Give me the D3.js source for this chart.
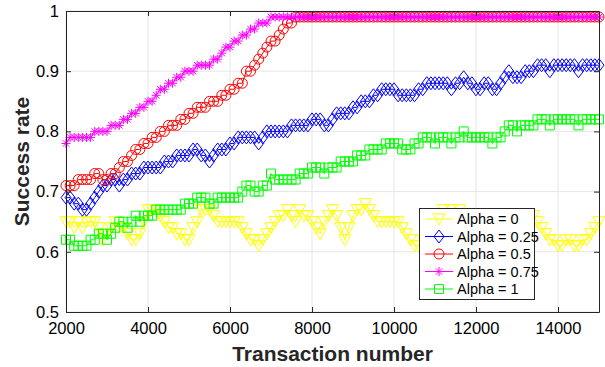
<!DOCTYPE html>
<html>
<head>
<meta charset="utf-8">
<script src="https://cdn.jsdelivr.net/npm/d3@7"></script>
<style>
  html, body { margin: 0; padding: 0; background: #fff; }
  svg { display: block; font-family: "Liberation Sans", Arial, Helvetica, sans-serif; }
</style>
</head>
<body>
<svg id="chart" width="605" height="367"></svg>
<script>
// Transactions sampled every 100 from 2000 to 15000
const transactions = d3.range(2000, 15001, 100);

const xTicks = [2000, 4000, 6000, 8000, 10000, 12000, 14000];
const yTicks = [0.5, 0.6, 0.7, 0.8, 0.9, 1.0];
const yTickLabels = ["0.5", "0.6", "0.7", "0.8", "0.9", "1"];

const seriesNames = ["Alpha = 0", "Alpha = 0.25", "Alpha = 0.5", "Alpha = 0.75", "Alpha = 1"];

const alpha0 = [
  .65,.65,.64,.65,.64,.65,.65,.65,.64,.62,
  .63,.64,.65,.64,.64,.63,.62,.62,.63,.65,
  .67,.67,.67,.66,.65,.64,.64,.63,.63,.62,
  .62,.64,.65,.67,.67,.67,.66,.65,.65,.65,
  .65,.65,.65,.64,.63,.62,.62,.61,.62,.63,
  .64,.65,.66,.66,.67,.66,.65,.67,.66,.66,
  .65,.64,.63,.65,.66,.67,.66,.64,.62,.64,
  .66,.67,.67,.68,.67,.66,.65,.65,.65,.65,
  .65,.65,.64,.63,.62,.61,.61,.62,.63,.64,
  .65,.66,.67,.66,.67,.66,.67,.66,.65,.64,
  .64,.63,.63,.64,.65,.64,.63,.63,.64,.65,
  .65,.64,.65,.65,.66,.65,.64,.63,.62,.62,
  .61,.61,.62,.62,.61,.61,.62,.62,.63,.64,
  .65
];

const alpha025 = [
  .69,.69,.68,.68,.67,.67,.68,.69,.70,.71,
  .71,.72,.72,.71,.72,.72,.73,.73,.73,.74,
  .74,.74,.74,.74,.75,.75,.75,.76,.76,.76,
  .76,.77,.77,.76,.76,.75,.76,.77,.77,.77,
  .78,.78,.79,.79,.79,.79,.79,.78,.79,.80,
  .80,.80,.80,.80,.80,.81,.81,.81,.81,.81,
  .82,.82,.82,.81,.81,.82,.83,.83,.83,.83,
  .84,.84,.85,.85,.85,.86,.86,.87,.87,.87,
  .87,.86,.86,.86,.86,.86,.87,.87,.88,.88,
  .88,.88,.88,.88,.87,.88,.88,.89,.88,.88,
  .87,.87,.88,.88,.87,.87,.88,.89,.90,.89,
  .89,.89,.90,.90,.90,.91,.91,.91,.90,.91,
  .91,.91,.91,.91,.91,.90,.91,.91,.91,.91,
  .91
];

const alpha05 = [
  .71,.71,.71,.72,.72,.72,.72,.73,.73,.72,
  .72,.73,.73,.74,.75,.75,.76,.77,.77,.78,
  .78,.79,.79,.80,.80,.81,.81,.81,.82,.82,
  .83,.83,.84,.84,.84,.85,.85,.85,.86,.86,
  .87,.87,.88,.88,.90,.90,.91,.92,.93,.94,
  .95,.95,.96,.97,.98,.98,.99,.99,.99,.99,
  .99,.99,.99,.99,.99,.99,.99,.99,.99,.99,
  .99,.99,.99,.99,.99,.99,.99,.99,.99,.99,
  .99,.99,.99,.99,.99,.99,.99,.99,.99,.99,
  .99,.99,.99,.99,.99,.99,.99,.99,.99,.99,
  .99,.99,.99,.99,.99,.99,.99,.99,.99,.99,
  .99,.99,.99,.99,.99,.99,.99,.99,.99,.99,
  .99,.99,.99,.99,.99,.99,.99,.99,.99,.99,
  .99
];

const alpha075 = [
  .78,.79,.79,.79,.79,.79,.79,.80,.80,.80,
  .80,.81,.81,.81,.82,.82,.83,.83,.84,.84,
  .85,.85,.86,.87,.87,.88,.88,.89,.89,.90,
  .90,.90,.91,.91,.91,.91,.92,.92,.93,.94,
  .94,.95,.95,.96,.96,.97,.97,.98,.98,.98,
  .99,.99,.99,.99,.99,.99,.99,.99,.99,.99,
  .99,.99,.99,.99,.99,.99,.99,.99,.99,.99,
  .99,.99,.99,.99,.99,.99,.99,.99,.99,.99,
  .99,.99,.99,.99,.99,.99,.99,.99,.99,.99,
  .99,.99,.99,.99,.99,.99,.99,.99,.99,.99,
  .99,.99,.99,.99,.99,.99,.99,.99,.99,.99,
  .99,.99,.99,.99,.99,.99,.99,.99,.99,.99,
  .99,.99,.99,.99,.99,.99,.99,.99,.99,.99,
  .99
];

const alpha1 = [
  .62,.62,.61,.61,.61,.61,.62,.62,.63,.63,
  .62,.63,.64,.65,.65,.64,.65,.66,.65,.66,
  .66,.66,.67,.67,.67,.67,.67,.67,.67,.68,
  .68,.68,.69,.69,.69,.68,.68,.69,.69,.69,
  .69,.69,.69,.70,.71,.71,.70,.70,.71,.71,
  .73,.72,.72,.72,.72,.72,.72,.73,.73,.73,
  .74,.74,.74,.73,.74,.74,.74,.75,.75,.75,
  .75,.76,.76,.76,.77,.77,.77,.77,.78,.78,
  .78,.78,.77,.77,.77,.78,.78,.79,.79,.79,
  .78,.79,.79,.79,.78,.79,.79,.80,.79,.79,
  .79,.79,.79,.79,.78,.79,.79,.80,.81,.81,
  .80,.81,.81,.81,.81,.82,.82,.82,.81,.82,
  .82,.82,.82,.82,.82,.81,.82,.82,.82,.82,
  .82
];

const seriesValues = [alpha0, alpha025, alpha05, alpha075, alpha1];
const seriesColors = ["#ffff00", "#0000ff", "#ff0000", "#ff00ff", "#00ff00"];
const seriesMarkers = ["triangleDown", "diamond", "circle", "asterisk", "square"];

// Plot geometry
const plot = { left: 66, right: 599, top: 11, bottom: 312 };
const axisColor = "#262626";
const gridColor = "#e6e6e6";

const svg = d3.select("#chart");

const x = d3.scaleLinear().domain([2000, 15000]).range([plot.left, plot.right]);
const y = d3.scaleLinear().domain([0.5, 1.0]).range([plot.bottom, plot.top]);

// Grid
const grid = svg.append("g");
grid.selectAll("line.gx").data(xTicks).join("line")
  .attr("x1", d => x(d)).attr("x2", d => x(d))
  .attr("y1", plot.top).attr("y2", plot.bottom)
  .attr("stroke", gridColor).attr("stroke-width", 1);
grid.selectAll("line.gy").data(yTicks).join("line")
  .attr("x1", plot.left).attr("x2", plot.right)
  .attr("y1", d => y(d)).attr("y2", d => y(d))
  .attr("stroke", gridColor).attr("stroke-width", 1);

// Marker path generators, centred on the origin
function markerPath(kind) {
  const p = d3.path();
  if (kind === "triangleDown") {
    p.moveTo(-6, -5); p.lineTo(6, -5); p.lineTo(0, 6); p.closePath();
  } else if (kind === "diamond") {
    p.moveTo(0, -6.5); p.lineTo(5, 0); p.lineTo(0, 6.5); p.lineTo(-5, 0); p.closePath();
  } else if (kind === "circle") {
    p.moveTo(5, 0); p.arc(0, 0, 5, 0, 2 * Math.PI);
  } else if (kind === "square") {
    p.rect(-4.5, -4.5, 9, 9);
  } else if (kind === "asterisk") {
    const r = 4.5, d = r * 0.7071;
    p.moveTo(-r, 0); p.lineTo(r, 0);
    p.moveTo(0, -r); p.lineTo(0, r);
    p.moveTo(-d, -d); p.lineTo(d, d);
    p.moveTo(-d, d); p.lineTo(d, -d);
  }
  return p.toString();
}

const line = d3.line().x(d => x(d[0])).y(d => y(d[1]));

// Series
seriesValues.forEach((vals, i) => {
  const pts = transactions.map((t, k) => [t, vals[k]]);
  const g = svg.append("g").attr("class", "series");
  g.append("path")
    .attr("d", line(pts))
    .attr("fill", "none")
    .attr("stroke", seriesColors[i])
    .attr("stroke-width", 1);
  const mp = markerPath(seriesMarkers[i]);
  g.selectAll("path.m").data(pts).join("path")
    .attr("class", "m")
    .attr("transform", d => `translate(${x(d[0])},${y(d[1])})`)
    .attr("d", mp)
    .attr("fill", "none")
    .attr("stroke", seriesColors[i])
    .attr("stroke-width", 1);
});

// Axes box with inward ticks on all four sides
const tickLen = 5;
const axisG = svg.append("g");
const xAxisBottom = d3.axisBottom(x).tickValues(xTicks).tickSizeInner(-tickLen).tickSizeOuter(0).tickPadding(10).tickFormat(d3.format("d"));
const xAxisTop = d3.axisTop(x).tickValues(xTicks).tickSizeInner(-tickLen).tickSizeOuter(0).tickFormat("");
const yAxisLeft = d3.axisLeft(y).tickValues(yTicks).tickSizeInner(-tickLen).tickSizeOuter(0).tickPadding(7).tickFormat((d, i) => yTickLabels[i]);
const yAxisRight = d3.axisRight(y).tickValues(yTicks).tickSizeInner(-tickLen).tickSizeOuter(0).tickFormat("");

function styleAxis(g) {
  g.select(".domain").attr("stroke", axisColor).attr("stroke-width", 1);
  g.selectAll(".tick line").attr("stroke", axisColor).attr("stroke-width", 1);
  g.selectAll(".tick text").attr("fill", "#000").attr("font-size", 16.5)
    .attr("font-family", "'Liberation Sans', Arial, sans-serif");
}

axisG.append("g").attr("transform", `translate(0,${plot.bottom})`).call(xAxisBottom).call(styleAxis);
axisG.append("g").attr("transform", `translate(0,${plot.top})`).call(xAxisTop).call(styleAxis);
axisG.append("g").attr("transform", `translate(${plot.left},0)`).call(yAxisLeft).call(styleAxis);
axisG.append("g").attr("transform", `translate(${plot.right},0)`).call(yAxisRight).call(styleAxis);

// Axis titles
svg.append("text")
  .attr("x", (plot.left + plot.right) / 2)
  .attr("y", 361)
  .attr("text-anchor", "middle")
  .attr("font-size", 21).attr("font-weight", "bold").attr("fill", "#262626")
  .text("Transaction number");

svg.append("text")
  .attr("transform", `translate(29,${(plot.top + plot.bottom) / 2}) rotate(-90)`)
  .attr("text-anchor", "middle")
  .attr("font-size", 21).attr("font-weight", "bold").attr("fill", "#262626")
  .text("Success rate");

// Legend
const legend = { left: 419, top: 208, width: 115, height: 91 };
const lg = svg.append("g");
lg.append("rect")
  .attr("x", legend.left + 0.5).attr("y", legend.top + 0.5)
  .attr("width", legend.width).attr("height", legend.height)
  .attr("fill", "#fff").attr("stroke", axisColor).attr("stroke-width", 1);

seriesNames.forEach((name, i) => {
  const cy = legend.top + 11 + i * 17.5;
  const row = lg.append("g");
  row.append("line")
    .attr("x1", legend.left + 6).attr("x2", legend.left + 34)
    .attr("y1", cy).attr("y2", cy)
    .attr("stroke", seriesColors[i]).attr("stroke-width", 1);
  row.append("path")
    .attr("transform", `translate(${legend.left + 20},${cy})`)
    .attr("d", markerPath(seriesMarkers[i]))
    .attr("fill", "none").attr("stroke", seriesColors[i]).attr("stroke-width", 1);
  row.append("text")
    .attr("x", legend.left + 38).attr("y", cy)
    .attr("dy", "0.35em")
    .attr("font-size", 14.5).attr("fill", "#000")
    .text(name);
});
</script>
</body>
</html>
